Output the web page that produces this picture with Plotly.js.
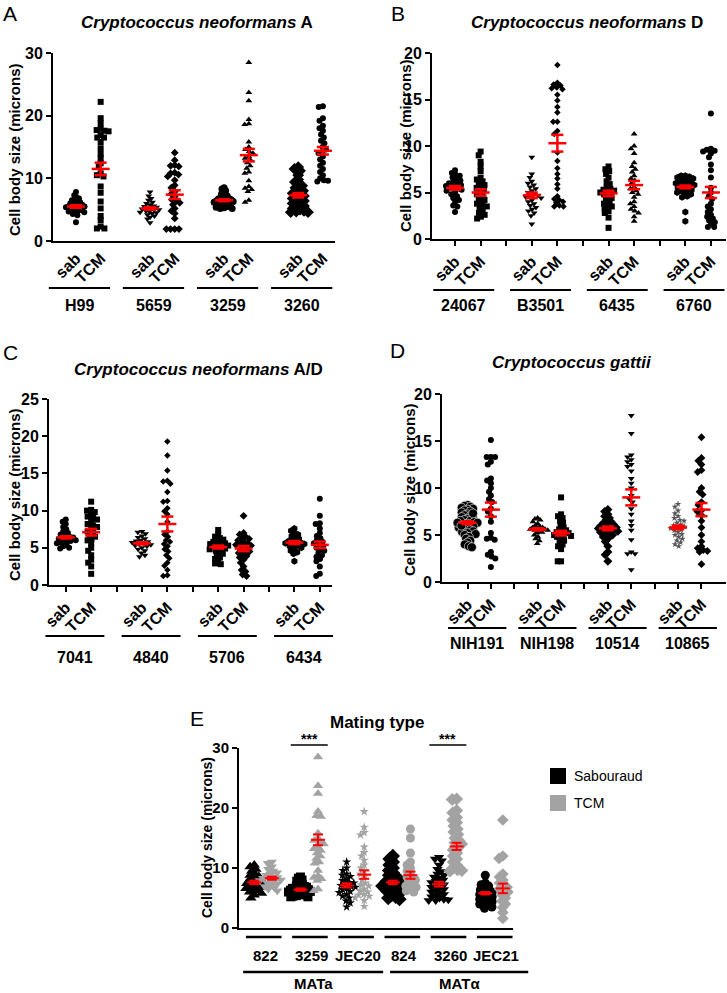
<!DOCTYPE html>
<html><head><meta charset="utf-8">
<script src="https://cdn.plot.ly/plotly-3.0.1.min.js"></script>
<style>body{margin:0;background:#fff}</style>
</head><body><div id="chart" style="width:727px;height:993px"></div>
<script>
// ---------------- DATA (microns) ----------------
const conditions = ['sab', 'TCM'];
const strainsA = ['H99', '5659', '3259', '3260'];
const strainsB = ['24067', 'B3501', '6435', '6760'];
const strainsC = ['7041', '4840', '5706', '6434'];
const strainsD = ['NIH191', 'NIH198', '10514', '10865'];
const strainsE = ['822', '3259', 'JEC20', '824', '3260', 'JEC21'];
const matingGroups = ['MATa', 'MATα'];
const legendLabels = ['Sabouraud', 'TCM'];

// Panel A
const A_H99_sab = [7.8, 7.3, 7.0, 6.8, 6.6, 6.5, 6.3, 6.2, 6.0, 5.9, 5.8, 5.7, 5.6, 5.5, 5.5, 5.4, 5.3, 5.2, 5.1, 5.0, 4.9, 4.8, 4.7, 4.6, 4.5, 4.3, 4.1, 3.0];
const A_H99_tcm = [22.2, 19.6, 18.8, 17.9, 17.7, 17.6, 17.5, 16.9, 16.5, 16.5, 15.8, 14.8, 13.9, 13.2, 12.4, 11.8, 10.8, 10.3, 10.5, 8.7, 7.7, 6.3, 5.2, 4.0, 3.3, 2.3, 2.0, 2.0];
const A_5659_sab = [7.8, 7.2, 6.8, 6.5, 6.2, 6.0, 5.8, 5.6, 5.5, 5.4, 5.3, 5.2, 5.1, 5.0, 4.9, 4.8, 4.7, 4.6, 4.5, 4.4, 4.2, 4.0, 3.8, 3.5, 2.9];
const A_5659_tcm = [14.1, 12.9, 12.1, 12.0, 11.9, 10.9, 10.8, 10.6, 10.3, 9.7, 8.9, 8.5, 7.9, 7.5, 7.1, 6.6, 6.3, 6.1, 5.8, 5.2, 4.8, 4.4, 3.6, 1.9, 1.9, 1.9, 1.9];
const A_3259_sab = [8.5, 8.3, 8.0, 7.8, 7.5, 7.3, 7.2, 7.0, 6.9, 6.8, 6.7, 6.6, 6.5, 6.4, 6.3, 6.2, 6.1, 6.0, 5.9, 5.8, 5.7, 5.6, 5.5, 5.4, 5.3, 5.2, 5.2, 6.4, 6.6, 6.2];
const A_3259_tcm = [28.5, 23.7, 22.4, 19.4, 18.7, 18.6, 15.8, 15.0, 14.6, 14.3, 14.0, 13.5, 13.2, 12.9, 12.5, 12.0, 11.6, 11.0, 10.8, 9.6, 8.7, 8.4, 8.2, 7.9, 6.5, 6.2];
const A_3260_sab = [11.8, 11.5, 11.2, 10.5, 9.8, 9.4, 9.0, 8.8, 8.5, 8.3, 8.0, 7.8, 7.6, 7.4, 7.2, 7.0, 6.8, 6.6, 6.4, 6.2, 6.0, 5.8, 5.6, 5.4, 5.2, 5.0, 4.8, 4.6, 4.6, 4.7];
const A_3260_tcm = [21.5, 21.4, 19.6, 19.2, 18.4, 18.0, 17.6, 17.0, 16.5, 16.0, 15.6, 15.0, 14.6, 14.2, 14.0, 13.5, 13.0, 12.5, 12.0, 11.5, 11.0, 10.5, 10.0, 9.7, 9.6, 9.5];
const meansA = [5.5, 11.5, 5.2, 7.4, 6.5, 13.7, 7.3, 14.4];
const semsA  = [0.2, 1.0, 0.2, 0.7, 0.15, 1.0, 0.35, 0.6];

// Panel B
const B_24067_sab = [7.4, 7.1, 6.9, 6.8, 6.6, 6.4, 6.3, 6.1, 6.0, 5.9, 5.8, 5.7, 5.6, 5.5, 5.4, 5.3, 5.2, 5.0, 4.8, 4.6, 4.4, 4.2, 4.0, 3.6, 3.5, 2.9];
const B_24067_tcm = [9.4, 9.0, 8.3, 7.8, 7.3, 6.6, 6.4, 6.0, 5.8, 5.5, 5.3, 5.0, 4.8, 4.6, 4.4, 4.2, 4.0, 3.8, 3.6, 3.5, 3.3, 3.0, 2.8, 2.6, 2.4, 2.2, 5.6, 6.2];
const B_B3501_sab = [8.8, 7.0, 6.6, 6.2, 6.0, 5.8, 5.6, 5.4, 5.2, 5.0, 4.8, 4.7, 4.6, 4.4, 4.2, 4.0, 3.8, 3.6, 3.4, 3.2, 3.0, 2.8, 2.5, 1.6, 4.5];
const B_B3501_tcm = [18.7, 16.8, 16.6, 16.5, 16.3, 16.2, 16.1, 15.5, 14.9, 14.2, 13.6, 12.6, 12.6, 11.6, 11.3, 9.3, 8.4, 7.6, 7.0, 6.5, 5.9, 5.4, 4.6, 4.3, 4.2, 4.0, 3.9, 3.6, 3.5, 3.5];
const B_6435_sab = [7.8, 7.5, 7.3, 7.0, 6.6, 6.2, 5.9, 5.6, 5.4, 5.2, 5.0, 4.9, 4.8, 4.6, 4.4, 4.2, 4.0, 3.8, 3.6, 3.5, 3.3, 3.0, 2.8, 2.3, 1.2, 5.3, 5.1];
const B_6435_tcm = [11.3, 10.0, 9.7, 9.2, 8.2, 7.8, 7.5, 7.2, 6.8, 6.5, 6.3, 6.0, 5.6, 5.4, 5.2, 5.0, 4.8, 4.5, 4.0, 3.8, 3.5, 3.2, 3.0, 2.8, 2.4, 1.9];
const B_6760_sab = [6.8, 6.8, 6.7, 6.6, 6.5, 6.4, 6.3, 6.2, 6.1, 6.0, 5.9, 5.8, 5.7, 5.6, 5.5, 5.4, 5.3, 5.2, 5.1, 5.0, 4.9, 4.8, 4.6, 4.5, 2.9, 1.9];
const B_6760_tcm = [13.5, 9.7, 9.6, 9.5, 9.4, 9.2, 8.8, 8.0, 7.4, 6.6, 5.5, 5.0, 4.6, 4.3, 3.8, 3.5, 3.2, 2.9, 2.6, 2.4, 2.2, 2.0, 1.8, 1.6, 1.3, 1.3];
const meansB = [5.5, 5.0, 4.7, 10.3, 4.9, 5.8, 5.6, 5.0];
const semsB  = [0.2, 0.35, 0.3, 0.9, 0.3, 0.45, 0.15, 0.6];

// Panel C
const C_7041_sab = [8.8, 8.5, 8.2, 7.8, 7.5, 7.2, 7.0, 6.8, 6.6, 6.5, 6.4, 6.3, 6.2, 6.1, 6.0, 5.9, 5.8, 5.7, 5.6, 5.4, 5.2, 5.0, 4.9];
const C_7041_tcm = [11.2, 10.1, 10.0, 9.8, 9.5, 9.2, 9.0, 8.8, 8.5, 8.2, 8.0, 7.8, 7.5, 7.2, 7.0, 6.7, 6.5, 6.2, 6.0, 5.6, 5.0, 4.6, 4.0, 3.4, 3.0, 2.5, 1.5];
const C_4840_sab = [7.2, 7.1, 6.9, 6.6, 6.4, 6.2, 6.0, 5.9, 5.8, 5.7, 5.6, 5.5, 5.4, 5.3, 5.2, 5.0, 4.8, 4.6, 4.3, 4.0, 3.8];
const C_4840_tcm = [19.3, 17.4, 15.4, 14.0, 13.9, 13.6, 12.5, 11.3, 11.2, 10.3, 9.9, 9.5, 8.5, 7.2, 6.8, 6.5, 6.0, 5.8, 5.5, 5.2, 4.8, 4.5, 4.0, 3.6, 3.0, 2.6, 2.0, 1.3, 1.2];
const C_5706_sab = [7.4, 6.8, 6.5, 6.3, 6.0, 5.8, 5.6, 5.5, 5.4, 5.2, 5.1, 5.0, 4.9, 4.8, 4.6, 4.4, 4.2, 4.0, 3.7, 3.5, 3.2, 2.9, 2.8, 5.3, 5.6, 6.1];
const C_5706_tcm = [9.3, 7.0, 6.8, 6.5, 6.2, 6.0, 5.8, 5.6, 5.4, 5.2, 5.0, 4.8, 4.6, 4.5, 4.3, 4.1, 3.9, 3.7, 3.4, 3.0, 2.5, 2.0, 1.8, 1.4, 1.2, 5.5, 6.3, 5.3];
const C_6434_sab = [7.6, 7.3, 7.0, 6.8, 6.6, 6.4, 6.2, 6.0, 5.9, 5.8, 5.7, 5.6, 5.5, 5.4, 5.3, 5.2, 5.0, 4.8, 4.6, 4.4, 4.2, 3.2];
const C_6434_tcm = [11.6, 9.3, 8.3, 8.2, 7.6, 7.0, 6.6, 6.3, 6.0, 5.8, 5.6, 5.4, 5.2, 5.0, 4.8, 4.6, 4.3, 4.0, 3.8, 3.5, 3.2, 2.5, 1.5, 1.2];
const meansC = [6.4, 7.1, 5.6, 8.2, 5.1, 4.9, 5.7, 5.4];
const semsC  = [0.15, 0.45, 0.15, 1.0, 0.2, 0.35, 0.2, 0.45];

// Panel D
const D_NIH191_sab = [8.2, 8.1, 8.0, 7.9, 7.8, 7.7, 7.6, 7.5, 7.4, 7.2, 7.1, 7.0, 6.9, 6.8, 6.7, 6.6, 6.5, 6.4, 6.3, 6.2, 6.1, 6.0, 5.9, 5.8, 5.7, 5.6, 5.5, 5.4, 5.3, 5.2, 5.1, 5.0, 4.8, 4.6, 4.4, 4.2, 4.0, 3.8, 3.7, 6.5, 6.3, 6.0, 7.3];
const D_NIH191_tcm = [15.1, 13.3, 13.3, 13.3, 12.8, 12.5, 11.0, 10.8, 10.5, 10.0, 9.6, 9.2, 8.8, 8.5, 7.8, 7.5, 7.0, 6.4, 5.2, 4.7, 4.6, 4.5, 3.2, 2.9, 2.7, 2.5, 1.6];
const D_NIH198_sab = [6.8, 6.7, 6.6, 6.4, 6.2, 6.0, 5.9, 5.8, 5.7, 5.6, 5.5, 5.4, 5.3, 5.2, 5.0, 4.8, 4.6, 4.4, 4.1, 5.6, 5.5, 5.8];
const D_NIH198_tcm = [9.0, 7.2, 7.0, 6.8, 6.5, 6.3, 6.0, 5.8, 5.6, 5.4, 5.3, 5.2, 5.1, 5.0, 4.9, 4.8, 4.6, 4.4, 4.2, 4.0, 3.8, 3.5, 2.2, 2.2, 5.5, 5.0];
const D_10514_sab = [7.7, 7.5, 7.2, 7.0, 6.8, 6.6, 6.4, 6.3, 6.1, 6.0, 5.9, 5.8, 5.7, 5.6, 5.5, 5.4, 5.3, 5.2, 5.1, 5.0, 4.8, 4.6, 4.3, 3.8, 3.2, 2.9, 2.2, 6.2, 5.9, 5.5];
const D_10514_tcm = [17.7, 15.8, 13.5, 13.3, 13.0, 12.8, 12.5, 12.3, 11.8, 11.0, 10.5, 10.0, 9.2, 8.8, 8.5, 7.8, 7.2, 6.5, 6.0, 5.5, 4.5, 3.2, 3.0, 3.0, 1.3];
const D_10865_sab = [8.3, 8.0, 7.6, 7.3, 7.0, 6.8, 6.5, 6.3, 6.1, 6.0, 5.9, 5.8, 5.6, 5.5, 5.3, 5.1, 5.0, 4.8, 4.6, 4.4, 4.2, 4.0, 3.8, 6.6, 5.7];
const D_10865_tcm = [15.4, 13.2, 12.9, 12.5, 11.9, 11.7, 10.0, 9.6, 9.3, 8.5, 8.2, 7.6, 7.5, 7.1, 6.5, 5.8, 5.0, 4.3, 3.8, 3.6, 3.4, 3.3, 3.2, 1.9];
const meansD = [6.3, 7.7, 5.6, 5.2, 5.7, 9.0, 5.8, 7.7];
const semsD  = [0.15, 0.75, 0.12, 0.25, 0.2, 0.85, 0.2, 0.7];

// Panel E
const E_822_sab = [10.5, 10.2, 9.8, 9.5, 9.0, 8.6, 8.3, 8.0, 7.8, 7.6, 7.4, 7.2, 7.0, 6.8, 6.6, 6.4, 6.2, 6.0, 5.8, 5.5, 5.0, 7.5, 6.9, 8.8];
const E_822_tcm = [11.0, 10.8, 10.2, 9.8, 9.5, 9.2, 9.0, 8.8, 8.5, 8.3, 8.1, 7.9, 7.7, 7.5, 7.3, 7.1, 6.9, 6.7, 6.5, 6.2, 8.4, 8.0];
const E_JEC20_sab = [11.0, 10.0, 9.6, 9.0, 8.6, 8.2, 7.9, 7.6, 7.3, 7.1, 6.9, 6.6, 6.4, 6.1, 5.9, 5.6, 5.3, 5.0, 4.5, 4.2, 3.5, 7.5, 6.8, 8.8];
const E_JEC20_tcm = [19.4, 16.8, 15.9, 15.5, 13.5, 12.6, 12.0, 11.3, 10.5, 10.0, 9.5, 9.0, 8.6, 8.0, 7.5, 7.0, 6.5, 6.0, 5.6, 5.3, 5.0, 4.6, 3.6, 5.5, 6.2, 7.2];
const E_824_sab = [12.0, 11.5, 11.0, 10.5, 10.0, 9.6, 9.2, 8.8, 8.5, 8.2, 8.0, 7.8, 7.5, 7.2, 7.0, 6.8, 6.6, 6.4, 6.2, 6.0, 5.8, 5.5, 5.2, 5.0, 4.8, 7.6, 7.0, 6.5];
const E_824_tcm = [16.5, 15.0, 12.5, 11.0, 10.5, 10.0, 9.5, 9.0, 8.5, 8.2, 8.0, 7.6, 7.2, 7.0, 6.8, 6.5, 6.2, 6.0];
const E_JEC21_sab = [8.8, 7.5, 7.2, 7.0, 6.7, 6.4, 6.2, 6.0, 5.8, 5.6, 5.4, 5.2, 5.0, 4.8, 4.6, 4.4, 4.2, 4.0, 3.8, 3.5, 3.3];
const E_JEC21_tcm = [18.0, 12.0, 11.6, 9.0, 8.5, 8.0, 7.5, 7.0, 6.8, 6.5, 6.2, 6.0, 5.5, 5.0, 4.5, 4.0, 3.4, 2.6, 1.6];
const meansE = [7.6, 8.3, 6.4, 14.7, 7.1, 8.9, 7.6, 8.8, 7.3, 13.6, 5.8, 6.6];
const semsE  = [0.3, 0.25, 0.2, 0.9, 0.35, 0.7, 0.3, 0.6, 0.4, 0.6, 0.2, 0.8];

// ---------------- LAYOUT / STYLE ----------------
const W = 727, H = 993;
const FONT = 'Liberation Sans, Arial, Helvetica, sans-serif';
const GRAY = '#a3a3a3';
const b = s => '<b>' + s + '</b>';

const panels = [
  { letter: 'A', letterXY: [10, 13], title: '<i>Cryptococcus neoformans</i> A', titleXY: [197, 23], ytitleXY: [15, 150],
    strains: strainsA, data: [[A_H99_sab, A_H99_tcm], [A_5659_sab, A_5659_tcm], [A_3259_sab, A_3259_tcm], [A_3260_sab, A_3260_tcm]],
    means: meansA, sems: semsA,
    sym: [['circle', 'square'], ['triangle-down', 'diamond'], ['circle', 'triangle-up'], ['diamond', 'circle']],
    size: [[6, 6], [6, 6], [7, 6], [9, 6]],
    x0: 53, x1: 335, top: 53, bottom: 241, xr: [0.07, 11.49], yr: [0, 30], dtick: 10, xticks: false,
    lineY: 288, labelY: 305, lineOff: [-1.1, 0.38] },
  { letter: 'B', letterXY: [398, 13], title: '<i>Cryptococcus neoformans</i> D', titleXY: [587, 23], ytitleXY: [406, 145],
    strains: strainsB, data: [[B_24067_sab, B_24067_tcm], [B_B3501_sab, B_B3501_tcm], [B_6435_sab, B_6435_tcm], [B_6760_sab, B_6760_tcm]],
    means: meansB, sems: semsB,
    sym: [['circle', 'square'], ['triangle-down', 'diamond'], ['square', 'triangle-up'], ['hexagon', 'circle']],
    size: [[6, 6], [6, 5], [6, 6], [7, 6]],
    x0: 432, x1: 726, top: 53, bottom: 239, xr: [0.1, 11.59], yr: [0, 20], dtick: 5, xticks: true,
    lineY: 290, labelY: 305, lineOff: [-0.85, 0.53] },
  { letter: 'C', letterXY: [10, 352], title: '<i>Cryptococcus neoformans</i> A/D', titleXY: [198, 369], ytitleXY: [15, 495],
    strains: strainsC, data: [[C_7041_sab, C_7041_tcm], [C_4840_sab, C_4840_tcm], [C_5706_sab, C_5706_tcm], [C_6434_sab, C_6434_tcm]],
    means: meansC, sems: semsC,
    sym: [['circle', 'square'], ['triangle-down', 'diamond'], ['square', 'diamond'], ['hexagon', 'circle']],
    size: [[6, 6], [6, 5], [6, 6], [7, 6]],
    x0: 49, x1: 332, top: 399, bottom: 585, xr: [0.34, 11.48], yr: [0, 25], dtick: 5, xticks: true,
    lineY: 636, labelY: 657, lineOff: [-0.8, 0.52] },
  { letter: 'D', letterXY: [397, 350], title: '<i>Cryptococcus gattii</i>', titleXY: [572, 363], ytitleXY: [409, 490],
    strains: strainsD, data: [[D_NIH191_sab, D_NIH191_tcm], [D_NIH198_sab, D_NIH198_tcm], [D_10514_sab, D_10514_tcm], [D_10865_sab, D_10865_tcm]],
    means: meansD, sems: semsD,
    sym: [['circle', 'circle'], ['triangle-up', 'square'], ['diamond', 'triangle-down'], ['star', 'diamond']],
    size: [[9, 6], [6, 6], [7, 6], [5, 6]],
    x0: 442, x1: 726, top: 394, bottom: 582, xr: [-0.09, 12.05], yr: [0, 20], dtick: 5, xticks: true,
    lineY: 628, labelY: 643, lineOff: [-0.83, 0.66] }
];

const E = { letter: 'E', letterXY: [197, 718], title: 'Mating type', titleXY: [377, 722], ytitleXY: [207, 838],
  strains: strainsE,
  data: [[E_822_sab, E_822_tcm], [A_3259_sab, A_3259_tcm], [E_JEC20_sab, E_JEC20_tcm], [E_824_sab, E_824_tcm], [A_3260_sab, A_3260_tcm], [E_JEC21_sab, E_JEC21_tcm]],
  means: meansE, sems: semsE,
  sym: [['triangle-up', 'triangle-down'], ['square', 'triangle-up'], ['star', 'star'], ['diamond', 'circle'], ['triangle-down', 'diamond'], ['circle', 'diamond']],
  size: [[10, 9], [9, 9], [7, 7], [11, 9], [9, 10], [9, 9]],
  x0: 239, x1: 513, top: 748, bottom: 928, xr: [-0.52, 5.41], yr: [0, 30], dtick: 10 };

// beeswarm x-offsets (in px), then compressed so the spread stays within maxOff
function swarm(vals, pxPerY, d, maxOff) {
  const idx = vals.map((v, i) => i).sort((a, b) => vals[b] - vals[a]);
  const placed = [];
  const off = new Array(vals.length).fill(0);
  for (const i of idx) {
    const y = vals[i] * pxPerY;
    const near = placed.filter(p => Math.abs(p.y - y) < d);
    const cands = [0];
    near.forEach(p => { const dx = Math.sqrt(d * d - (p.y - y) ** 2); cands.push(p.x + dx, p.x - dx); });
    cands.sort((a, b) => Math.abs(a) - Math.abs(b) || a - b);
    let chosen = 0;
    for (const c of cands) {
      if (near.every(p => (p.x - c) ** 2 + (p.y - y) ** 2 >= d * d - 1e-6)) { chosen = c; break; }
    }
    placed.push({ x: chosen, y }); off[i] = chosen;
  }
  const mx = Math.max(...off.map(Math.abs));
  if (mx > maxOff) return off.map(o => o * maxOff / mx);
  return off;
}

const traces = [];
const shapes = [];
const annotations = [];
const layout = {
  width: W, height: H, margin: { l: 0, r: 0, t: 0, b: 0 },
  paper_bgcolor: '#fff', plot_bgcolor: 'rgba(0,0,0,0)', showlegend: false,
  font: { family: FONT, color: '#000' }
};

function px2paperX(px) { return px / W; }
function px2paperY(py) { return 1 - py / H; }
function dataX(p, v) { return (p.x0 + (v - p.xr[0]) / (p.xr[1] - p.xr[0]) * (p.x1 - p.x0)) / W; }

function ann(text, x, y, size, opts) {
  annotations.push(Object.assign({ text, xref: 'paper', yref: 'paper', x: px2paperX(x), y: px2paperY(y),
    xanchor: 'center', yanchor: 'middle', showarrow: false, font: { family: FONT, size, color: '#000' } }, opts || {}));
}
function hline(x0, x1, y, w, color) {
  shapes.push({ type: 'line', xref: 'paper', yref: 'paper', x0: x0, x1: x1, y0: px2paperY(y), y1: px2paperY(y),
    line: { color: color || '#000', width: w || 2 } });
}

function addPanel(p, n, posFn, colorFn, opts) {
  const xa = 'x' + (n === 1 ? '' : n), ya = 'y' + (n === 1 ? '' : n);
  const xkey = 'xaxis' + (n === 1 ? '' : n), ykey = 'yaxis' + (n === 1 ? '' : n);
  const pxPerY = (p.bottom - p.top) / (p.yr[1] - p.yr[0]);
  const pxPerX = (p.x1 - p.x0) / (p.xr[1] - p.xr[0]);
  const redX = [], redY = [];
  p.data.forEach((pair, g) => {
    pair.forEach((vals, c) => {
      const pos = posFn(g, c);
      const offs = swarm(vals, pxPerY, opts.d, opts.maxOff);
      traces.push({
        type: 'scatter', mode: 'markers', xaxis: xa, yaxis: ya, cliponaxis: false,
        x: vals.map((v, i) => pos + offs[i] / pxPerX), y: vals,
        marker: { symbol: p.sym[g][c], size: p.size[g][c], color: colorFn(g, c, p),
          line: { width: (opts.outline && opts.outline(g, c)) ? 0.6 : 0, color: '#fff' } },
        hoverinfo: 'y'
      });
      const k = g * 2 + c, m = p.means[k], s = p.sems[k];
      const mh = opts.meanHalf / pxPerX, ch = opts.capHalf / pxPerX;
      redX.push(pos - mh, pos + mh, null, pos, pos, null, pos - ch, pos + ch, null, pos - ch, pos + ch, null);
      redY.push(m, m, null, m - s, m + s, null, m - s, m - s, null, m + s, m + s, null);
    });
  });
  traces.push({ type: 'scatter', mode: 'lines', xaxis: xa, yaxis: ya, cliponaxis: false, x: redX, y: redY,
    line: { color: '#ff0000', width: opts.redW }, hoverinfo: 'skip' });

  layout[xkey] = Object.assign({
    domain: [p.x0 / W, p.x1 / W], range: p.xr, anchor: ya, showline: true, linewidth: 2, linecolor: '#000',
    showgrid: false, zeroline: false, fixedrange: true
  }, opts.xaxis);
  const yt = []; for (let v = p.yr[0]; v <= p.yr[1] + 1e-9; v += p.dtick) yt.push(v);
  layout[ykey] = {
    domain: [1 - p.bottom / H, 1 - p.top / H], range: p.yr, anchor: xa, showline: true, linewidth: 2, linecolor: '#000',
    showgrid: false, zeroline: false, ticks: 'outside', ticklen: 5, tickwidth: 2, tickcolor: '#000',
    tickvals: yt, ticktext: yt.map(v => b(String(v))), tickfont: { family: FONT, size: opts.ytickSize || 16, color: '#000' }, fixedrange: true
  };

  ann(p.letter, p.letterXY[0], p.letterXY[1], 21);
  ann(b(p.title), p.titleXY[0], p.titleXY[1], 17);
  ann(b('Cell body size (microns)'), p.ytitleXY[0], p.ytitleXY[1], opts.ytitleSize || 15, { textangle: -90 });
}

// Panels A-D
panels.forEach((p, i) => {
  const tv = [], tt = [];
  for (let k = 1; k <= 11; k++) { tv.push(k); tt.push(k % 3 === 0 ? '' : b(conditions[(k % 3) - 1])); }
  addPanel(p, i + 1, (g, c) => 3 * g + 1 + c, (g, c) => (i === 3 && g === 3 && c === 0 ? '#555' : '#000'), {
    d: 4.2, maxOff: 10, meanHalf: 9, capHalf: 6, redW: 2.5,
    outline: (g, c) => (i === 3 && g === 0 && c === 0),
    xaxis: { tickvals: tv, ticktext: tt, ticks: p.xticks ? 'outside' : '', ticklen: 5, tickwidth: 2, tickcolor: '#000',
      tickangle: -45, tickfont: { family: FONT, size: 16, color: '#000' } }
  });
  p.strains.forEach((s, g) => {
    const first = 3 * g + 1, last = 3 * g + 2;
    const a = dataX(p, first + p.lineOff[0]), bb = dataX(p, last + p.lineOff[1]);
    hline(a, bb, p.lineY, 2);
    annotations.push({ text: b(s), xref: 'paper', yref: 'paper', x: (a + bb) / 2, y: px2paperY(p.labelY), xanchor: 'center', yanchor: 'middle',
      showarrow: false, font: { family: FONT, size: 16, color: '#000' } });
  });
});

// Panel E
addPanel(E, 5, (g, c) => g + (c === 0 ? -0.19 : 0.19), (g, c) => (c === 0 ? '#000' : GRAY), {
  d: 4.5, maxOff: 12, meanHalf: 7, capHalf: 5, redW: 2, ytickSize: 15, ytitleSize: 14,
  xaxis: { showticklabels: false, ticks: '' }
});
E.strains.forEach((s, g) => {
  hline(dataX(E, g - 0.37), dataX(E, g + 0.4), 937, 2.5);
  annotations.push({ text: b(s), xref: 'paper', yref: 'paper', x: dataX(E, g + 0.05), y: px2paperY(955), xanchor: 'center', yanchor: 'middle',
    showarrow: false, font: { family: FONT, size: 15, color: '#000' } });
});
matingGroups.forEach((m, j) => {
  const a = dataX(E, j === 0 ? -0.43 : 2.75), bb = dataX(E, j === 0 ? 2.6 : 5.74);
  hline(a, bb, 972, 2.5);
  annotations.push({ text: b(m), xref: 'paper', yref: 'paper', x: (a + bb) / 2, y: px2paperY(983), xanchor: 'center', yanchor: 'middle',
    showarrow: false, font: { family: FONT, size: 15, color: '#000' } });
});
// significance marks over 3259 and 3260
[1, 4].forEach(g => {
  const a = dataX(E, g - 0.4), bb = dataX(E, g + 0.4);
  hline(a, bb, 745, 1.5);
  annotations.push({ text: b('***'), xref: 'paper', yref: 'paper', x: (a + bb) / 2, y: px2paperY(739), xanchor: 'center', yanchor: 'middle',
    showarrow: false, font: { family: FONT, size: 14, color: '#000' } });
});
// legend for E
[['#000', 776], [GRAY, 803]].forEach((it, j) => {
  shapes.push({ type: 'rect', xref: 'paper', yref: 'paper', x0: px2paperX(550), x1: px2paperX(566),
    y0: px2paperY(it[1] + 8), y1: px2paperY(it[1] - 8), fillcolor: it[0], line: { width: 0 } });
  ann(legendLabels[j], 572, it[1], 14, { xanchor: 'left' });
});

layout.shapes = shapes;
layout.annotations = annotations;
Plotly.newPlot('chart', traces, layout, { displayModeBar: false, staticPlot: true });
</script>
</body></html>
